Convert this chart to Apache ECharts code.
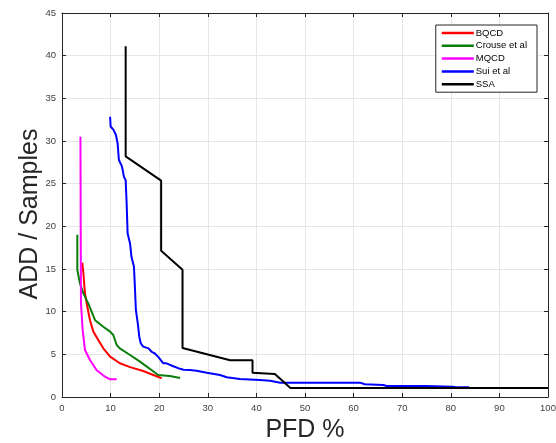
<!DOCTYPE html>
<html>
<head>
<meta charset="utf-8">
<script src="https://cdn.jsdelivr.net/npm/echarts@6/dist/echarts.min.js"></script>
<style>html,body{margin:0;padding:0;background:#fff;}#c{width:556px;height:443px;}</style>
</head>
<body>
<div id="c"></div>
<script>
const xTicks = [0,10,20,30,40,50,60,70,80,90,100];
const yTicks = [0,5,10,15,20,25,30,35,40,45];
const xAxisTitle = 'PFD %';
const yAxisTitle = 'ADD / Samples';
const seriesNames = ['BQCD','Crouse et al','MQCD','Sui et al','SSA'];

const bqcdX = [4.18, 4.4, 4.73, 5.2, 5.76, 6.45, 7.47, 8.5, 9.9, 11.9, 14.0, 16.7, 20.5];
const bqcdY = [15.74, 14.5, 12.15, 10.6, 9.0, 7.66, 6.68, 5.7, 4.73, 3.95, 3.5, 3.05, 2.2];

const crouseX = [3.15, 3.15, 3.7, 4.4, 5.4, 6.8, 8.5, 9.9, 10.55, 11.25, 11.9, 14.0, 16.05, 19.8, 20.2, 22.2, 24.3];
const crouseY = [19.0, 14.9, 13.3, 12.15, 10.97, 9.0, 8.24, 7.66, 7.27, 6.09, 5.7, 4.92, 4.14, 2.58, 2.46, 2.46, 2.22];

const mqcdX = [3.8, 3.85, 3.9, 4.25, 4.73, 5.76, 7.1, 8.85, 9.9, 11.25];
const mqcdY = [30.5, 20.0, 11.0, 7.85, 5.5, 4.34, 3.16, 2.38, 2.07, 2.07];

const suiX = [9.9, 10.0, 10.6, 11.1, 11.45, 11.7, 12.35, 12.75, 13.1, 13.3, 13.5, 14.0, 14.3, 14.8, 15.0, 15.2, 15.6, 15.9, 16.2, 16.7, 17.8, 18.45, 19.1, 19.8, 20.85, 21.5, 22.9, 24.3, 25.0, 26.3, 27.7, 29.8, 32.5, 33.9, 36.6, 40.7, 42.8, 44.9, 61.3, 62.3, 66.1, 66.8, 74.7, 75.0, 80.5, 81.2, 83.8];
const suiY = [32.85, 31.7, 31.3, 30.7, 29.7, 27.8, 27.0, 25.8, 25.4, 22.7, 19.2, 18.0, 16.4, 15.3, 12.9, 10.2, 8.6, 7.07, 6.3, 5.9, 5.7, 5.3, 5.1, 4.7, 3.95, 3.95, 3.6, 3.3, 3.2, 3.16, 3.08, 2.85, 2.58, 2.31, 2.1, 2.0, 1.91, 1.68, 1.68, 1.49, 1.4, 1.29, 1.29, 1.21, 1.21, 1.13, 1.13];

const ssaX = [13.1, 13.1, 20.4, 20.4, 24.8, 24.8, 34.6, 39.2, 39.2, 43.8, 47.0, 100];
const ssaY = [41.1, 28.2, 25.35, 17.15, 14.9, 5.75, 4.3, 4.3, 2.85, 2.7, 1.05, 1.05];

const colors = ['#ff0000', '#0a7d0a', '#ff00ff', '#0000ff', '#000000'];
const allX = [bqcdX, crouseX, mqcdX, suiX, ssaX];
const allY = [bqcdY, crouseY, mqcdY, suiY, ssaY];

function zip(xs, ys){ return xs.map((x,i)=>[x, ys[i]]); }

const font = 'Liberation Sans, Arial, Helvetica, sans-serif';
const axisCommon = {
  axisLine: {show: true, onZero: false, lineStyle: {color: '#262626', width: 1}},
  axisTick: {show: true, inside: true, length: 4, lineStyle: {color: '#262626'}},
};

const chart = echarts.init(document.getElementById('c'), null, {renderer: 'canvas'});
chart.setOption({
  animation: false,
  backgroundColor: '#ffffff',
  grid: {left: 62, right: 8, top: 13, bottom: 46, containLabel: false, outerBoundsMode: 'none'},
  graphic: [
    {type: 'text', x: 305, y: 430, style: {text: xAxisTitle, font: '25px ' + font, fill: '#262626', align: 'center', verticalAlign: 'middle'}},
    {type: 'text', x: 30, y: 214, rotation: Math.PI / 2, style: {text: yAxisTitle, font: '25px ' + font, fill: '#262626', align: 'center', verticalAlign: 'middle'}}
  ],
  xAxis: [
    Object.assign({
      type: 'value', min: 0, max: 100, interval: 10, position: 'bottom',
      axisLabel: {fontSize: 9.5, color: '#404040', fontFamily: font, margin: 6},
      splitLine: {show: true, lineStyle: {color: '#e6e6e6', width: 1}}
    }, axisCommon),
    Object.assign({
      type: 'value', min: 0, max: 100, interval: 10, position: 'top',
      axisLabel: {show: false}, splitLine: {show: false}
    }, axisCommon)
  ],
  yAxis: [
    Object.assign({
      type: 'value', min: 0, max: 45, interval: 5, position: 'left',
      axisLabel: {fontSize: 9.5, color: '#404040', fontFamily: font, margin: 6},
      splitLine: {show: true, lineStyle: {color: '#e6e6e6', width: 1}}
    }, axisCommon),
    Object.assign({
      type: 'value', min: 0, max: 45, interval: 5, position: 'right',
      axisLabel: {show: false}, splitLine: {show: false}
    }, axisCommon)
  ],
  legend: {
    orient: 'vertical', right: 19, top: 25,
    data: seriesNames,
    icon: 'rect', itemWidth: 32, itemHeight: 2.5, itemGap: 2.8,
    padding: [3, 10, 3, 6],
    borderColor: '#262626', borderWidth: 1, backgroundColor: '#ffffff',
    textStyle: {fontSize: 9.5, color: '#000', fontFamily: font, padding: [0,0,0,-3]}
  },
  series: seriesNames.map((n, i) => ({
    name: n, type: 'line', xAxisIndex: 0, yAxisIndex: 0,
    data: zip(allX[i], allY[i]),
    showSymbol: false, symbol: 'none',
    lineStyle: {color: colors[i], width: 2},
    itemStyle: {color: colors[i]},
    z: 2 + i
  }))
});
</script>
</body>
</html>
